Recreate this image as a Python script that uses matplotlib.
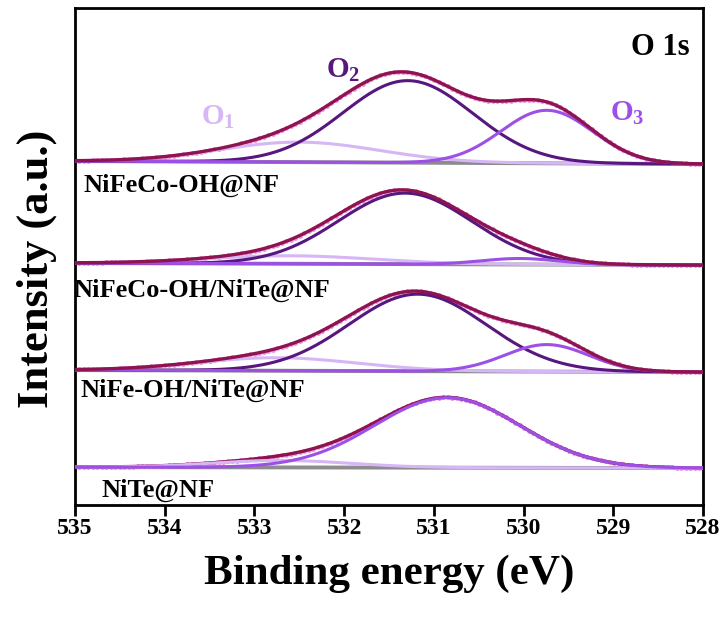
import numpy as np
import matplotlib
matplotlib.use('Agg')
import matplotlib.pyplot as plt

plt.rcParams['font.family'] = ['Liberation Serif', 'DejaVu Serif']
plt.rcParams['font.weight'] = 'bold'
plt.rcParams['mathtext.fontset'] = 'custom'
plt.rcParams['mathtext.rm'] = 'Liberation Serif:bold'
plt.rcParams['mathtext.bf'] = 'Liberation Serif:bold'
plt.rcParams['mathtext.default'] = 'bf'

# sample names, top to bottom
samples = ['NiFeCo-OH@NF', 'NiFeCo-OH/NiTe@NF', 'NiFe-OH/NiTe@NF', 'NiTe@NF']
offsets = [344, 242, 135, 38]          # vertical offset of each spectrum (a.u.)
bg_slope = [-3, -2, -2, -1]            # background drop from 535 to 528 eV

# fitted components: centre (eV), FWHM (eV), height (a.u.) for O1, O2, O3
o1_center = [532.5, 532.6, 532.75, 532.7]
o1_fwhm = [2.1, 2.2, 2.1, 1.8]
o1_height = [20, 8, 13, 7]

o2_center = [531.29, 531.32, 531.18, 531.0]
o2_fwhm = [1.7, 1.75, 1.8, 1.7]
o2_height = [82, 71, 77, 0]

o3_center = [529.74, 530.04, 529.74, 530.85]
o3_fwhm = [1.2, 1.0, 1.1, 1.9]
o3_height = [53, 6, 27, 70]

c_env = '#8e1450'
c_o1 = '#d6b6f4'
c_o2 = '#57177e'
c_o3 = '#9d50e6'
c_dot = '#ee8fe0'
c_base = '#8c8c8c'


def gauss(x, c, w, h):
    s = w / 2.3548
    return h * np.exp(-0.5 * ((x - c) / s) ** 2)


fig = plt.figure(figsize=(7.24, 6.19), dpi=100)
ax = fig.add_axes([0.1036, 0.184, 0.8674, 0.803])

x = np.linspace(535, 528, 700)
for i in range(4):
    base = offsets[i] + bg_slope[i] * (535 - x) / 7
    p1 = gauss(x, o1_center[i], o1_fwhm[i], o1_height[i])
    p2 = gauss(x, o2_center[i], o2_fwhm[i], o2_height[i])
    p3 = gauss(x, o3_center[i], o3_fwhm[i], o3_height[i])
    env = p1 + p2 + p3
    # in the last spectrum the single big component sits on top of the envelope
    zc = 5 if i == 3 else 3
    ax.plot(x, base, color=c_base, lw=2.8, zorder=1)
    ax.plot(x[::5], (base + env)[::5], 'o', color=c_dot, ms=2.5, zorder=2)
    ax.plot(x, base + p1, color=c_o1, lw=2.2, zorder=zc)
    if o2_height[i] > 0:
        ax.plot(x, base + p2, color=c_o2, lw=2.2, zorder=zc)
    ax.plot(x, base + p3, color=c_o3, lw=2.2, zorder=zc)
    ax.plot(x, base + env, color=c_env, lw=2.4, zorder=4)

# sample labels
label_pos = [(534.91, 320), (535.02, 215), (534.94, 115), (534.7, 15)]
for name, (lx, ly) in zip(samples, label_pos):
    ax.text(lx, ly, name, fontsize=19, fontweight='bold', ha='left', va='center')

ax.text(533.41, 388, 'O$_1$', color=c_o1, fontsize=21, fontweight='bold', ha='center', va='center')
ax.text(532.01, 435, 'O$_2$', color=c_o2, fontsize=21, fontweight='bold', ha='center', va='center')
ax.text(528.84, 392, 'O$_3$', color=c_o3, fontsize=21, fontweight='bold', ha='center', va='center')
ax.text(528.48, 458, 'O 1s', fontsize=22, fontweight='bold', ha='center', va='center')

ax.set_xlim(535, 528)
ax.set_ylim(0, 497)
ax.set_xticks(np.arange(535, 527, -1))
ax.set_yticks([])
ax.tick_params(axis='x', direction='out', length=8, width=2, labelsize=17, pad=1)
for lab in ax.get_xticklabels():
    lab.set_fontweight('bold')
for sp in ax.spines.values():
    sp.set_linewidth(2)

ax.set_xlabel('Binding energy (eV)', fontsize=31, fontweight='bold')
ax.xaxis.set_label_coords(0.5, -0.1)
ax.set_ylabel('Intensity (a.u.)', fontsize=32, fontweight='bold')
ax.yaxis.set_label_coords(-0.028, 0.475)

fig.savefig('out.png', dpi=100)
